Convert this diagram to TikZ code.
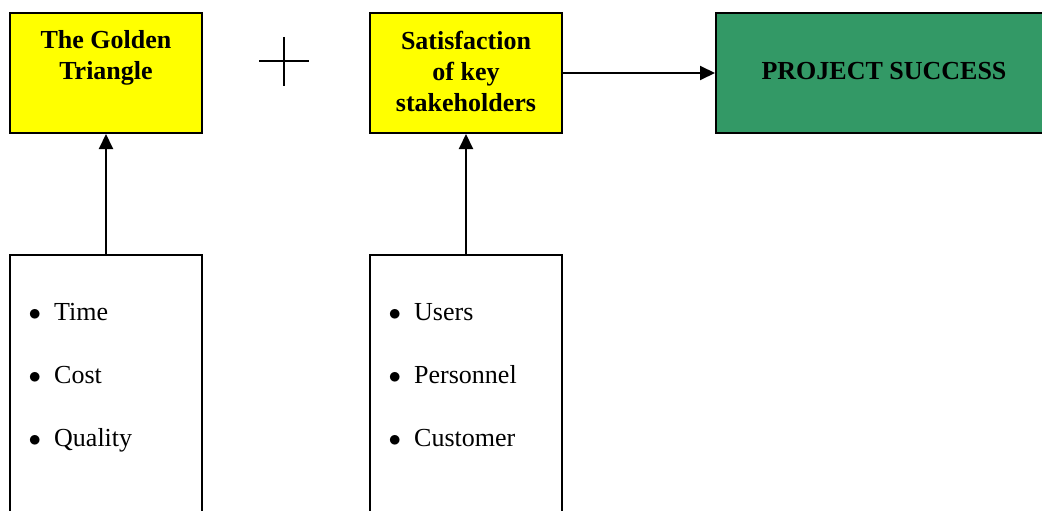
\documentclass[tikz,border=0pt]{standalone}
\usepackage{fontspec}
\setmainfont{Liberation Serif}
\usetikzlibrary{arrows.meta}
\definecolor{boxyellow}{HTML}{FFFF00}
\definecolor{boxgreen}{HTML}{339966}
\newcommand{\itm}[1]{\makebox[25.5pt][l]{$\bullet$}#1}
\begin{document}
\begin{tikzpicture}[x=1pt,y=-1pt,
  box/.style={draw=black, line width=2pt, inner sep=0pt, minimum width=192pt, minimum height=120pt},
  listbox/.style={draw=black, line width=2pt, fill=white, inner sep=0pt, minimum width=192pt, minimum height=300pt, anchor=north},
  title/.style={font=\fontsize{26pt}{31pt}\selectfont\bfseries, align=center, inner sep=0pt, anchor=base},
  items/.style={font=\fontsize{26pt}{63pt}\selectfont, align=left, inner sep=0pt, anchor=base west},
  conn/.style={line width=2pt, -{Triangle[length=15pt,width=14pt]}}]
\useasboundingbox (0,0) rectangle (1042,511);
\clip (0,0) rectangle (1042,511);
% top boxes
\node[box, fill=boxyellow] (gt) at (106,73) {};
\node[box, fill=boxyellow] (sat) at (466,73) {};
\node[box, fill=boxgreen, minimum width=336pt] (ps) at (884,73) {};
\node[title] (gtt) at (106,80) {The Golden\\Triangle};
\node[title] (satt) at (466,111) {Satisfaction\\of key\\stakeholders};
\node[title] (pst) at (884,80) {PROJECT SUCCESS};
% plus sign
\draw[line width=1.4pt] (259,61) -- (309,61) (284,37) -- (284,86);
% bottom boxes
\node[listbox] (tcq) at (106,254) {};
\node[listbox] (upc) at (466,254) {};
\node[items] (tcqt) at (28.5,446) {\itm{Time}\\\itm{Cost}\\\itm{Quality}};
\node[items] (upct) at (388.5,446) {\itm{Users}\\\itm{Personnel}\\\itm{Customer}};
% connectors
\draw[conn] (tcq.north) -- (gt.south);
\draw[conn] (upc.north) -- (sat.south);
\draw[conn] (sat.east) -- (ps.west);
\end{tikzpicture}
\end{document}
